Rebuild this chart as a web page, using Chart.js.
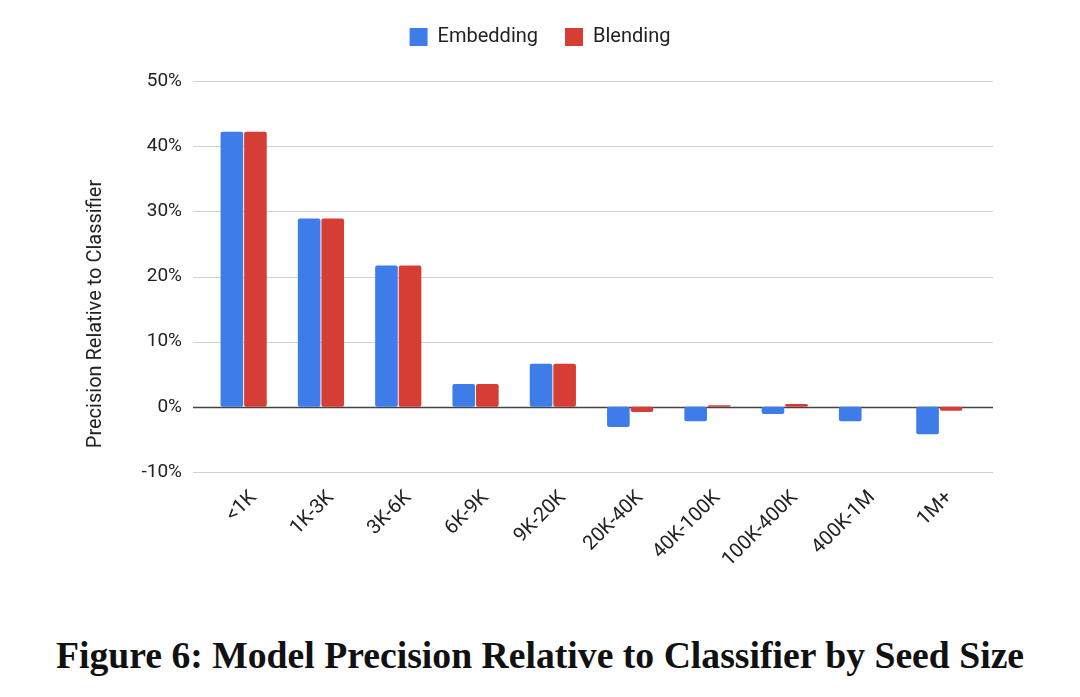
<!DOCTYPE html>
<html>
<head>
<meta charset="utf-8">
<script src="https://cdn.jsdelivr.net/npm/chart.js@4"></script>
<style>
  html, body { margin: 0; padding: 0; background: #fff; }
  #wrap { position: relative; width: 1080px; height: 697px; }
  #box { position: absolute; left: 0; top: 0; width: 1080px; height: 600px; }
  #caption {
    position: absolute; left: 0; top: 633px; width: 1080px; text-align: center;
    font-family: "Liberation Serif", serif; font-weight: bold; font-size: 37.7px; color: #111;
    white-space: nowrap;
  }
</style>
</head>
<body>
<div id="wrap">
  <div id="box"><canvas id="chart"></canvas></div>
  <div id="caption">Figure 6: Model Precision Relative to Classifier by Seed Size</div>
</div>
<script>
const categories = ["<1K", "1K-3K", "3K-6K", "6K-9K", "9K-20K", "20K-40K", "40K-100K", "100K-400K", "400K-1M", "1M+"];
const embedding = [42.2, 28.9, 21.7, 3.5, 6.6, -3.1, -2.2, -1.1, -2.2, -4.2];
const blending = [42.2, 28.9, 21.7, 3.5, 6.6, -0.8, 0.25, 0.45, 0, -0.6];
const yTicks = [-10, 0, 10, 20, 30, 40, 50];

const canvas = document.getElementById("chart");
const ctx = canvas.getContext("2d");

// grid lines run wider than the bar area, like the original
const gridPlugin = {
  id: "wideGrid",
  beforeDatasetsDraw(chart) {
    const y = chart.scales.y;
    const c = chart.ctx;
    c.save();
    yTicks.forEach(v => {
      const py = Math.round(y.getPixelForValue(v)) + 0.5;
      c.beginPath();
      c.moveTo(193, py);
      c.lineTo(993, py);
      c.lineWidth = v === 0 ? 1.6 : 1;
      c.strokeStyle = v === 0 ? "#444" : "#d0d0d0";
      c.stroke();
    });
    c.restore();
  },
  afterDraw(chart) {
    const c = chart.ctx;
    c.save();
    c.translate(96, 314);
    c.rotate(-Math.PI / 2);
    c.font = "20px Roboto";
    c.fillStyle = "#222";
    c.textAlign = "center";
    c.textBaseline = "middle";
    c.fillText("Precision Relative to Classifier", 0, 0);
    c.restore();
  }
};

// legend: fixed height and centred on the whole canvas
const legendBox = {
  id: "legendBox",
  beforeInit(chart) {
    const fit = chart.legend.fit;
    chart.legend.fit = function () {
      fit.bind(chart.legend)();
      this.height = 81;
    };
  },
  afterLayout(chart) {
    chart.legend.left = 0;
    chart.legend.right = chart.width;
    chart.legend.width = chart.width;
  }
};

new Chart(ctx, {
  type: "bar",
  data: {
    labels: categories,
    datasets: [
      {
        label: "Embedding",
        data: embedding,
        backgroundColor: "#3e7de9",
        borderRadius: 2,
        borderSkipped: false,
        categoryPercentage: 0.61,
        barPercentage: 0.96
      },
      {
        label: "Blending",
        data: blending,
        backgroundColor: "#d53d35",
        borderRadius: 2,
        borderSkipped: false,
        categoryPercentage: 0.61,
        barPercentage: 0.96
      }
    ]
  },
  options: {
    responsive: true,
    maintainAspectRatio: false,
    animation: false,
    layout: { padding: { left: 0, right: 102, top: 0, bottom: 0 } },
    plugins: {
      legend: {
        position: "top",
        labels: {
          boxWidth: 18,
          boxHeight: 18,
          padding: 27,
          color: "#222",
          font: { family: "Roboto", size: 20 }
        }
      },
      tooltip: { enabled: false }
    },
    scales: {
      x: {
        offset: true,
        grid: { display: false },
        border: { display: false },
        ticks: {
          color: "#222",
          font: { family: "Roboto", size: 20 },
          minRotation: 45,
          maxRotation: 45,
          labelOffset: 10,
          padding: 6
        },
        afterFit(scale) { scale.height = 128; }
      },
      y: {
        min: -10,
        max: 50,
        grid: { display: false },
        border: { display: false },
        ticks: {
          stepSize: 10,
          padding: 15,
          color: "#222",
          font: { family: "Roboto", size: 19 },
          callback: v => v + "%"
        },
        afterFit(scale) { scale.width = 205; }
      }
    }
  },
  plugins: [gridPlugin, legendBox]
});
</script>
</body>
</html>
